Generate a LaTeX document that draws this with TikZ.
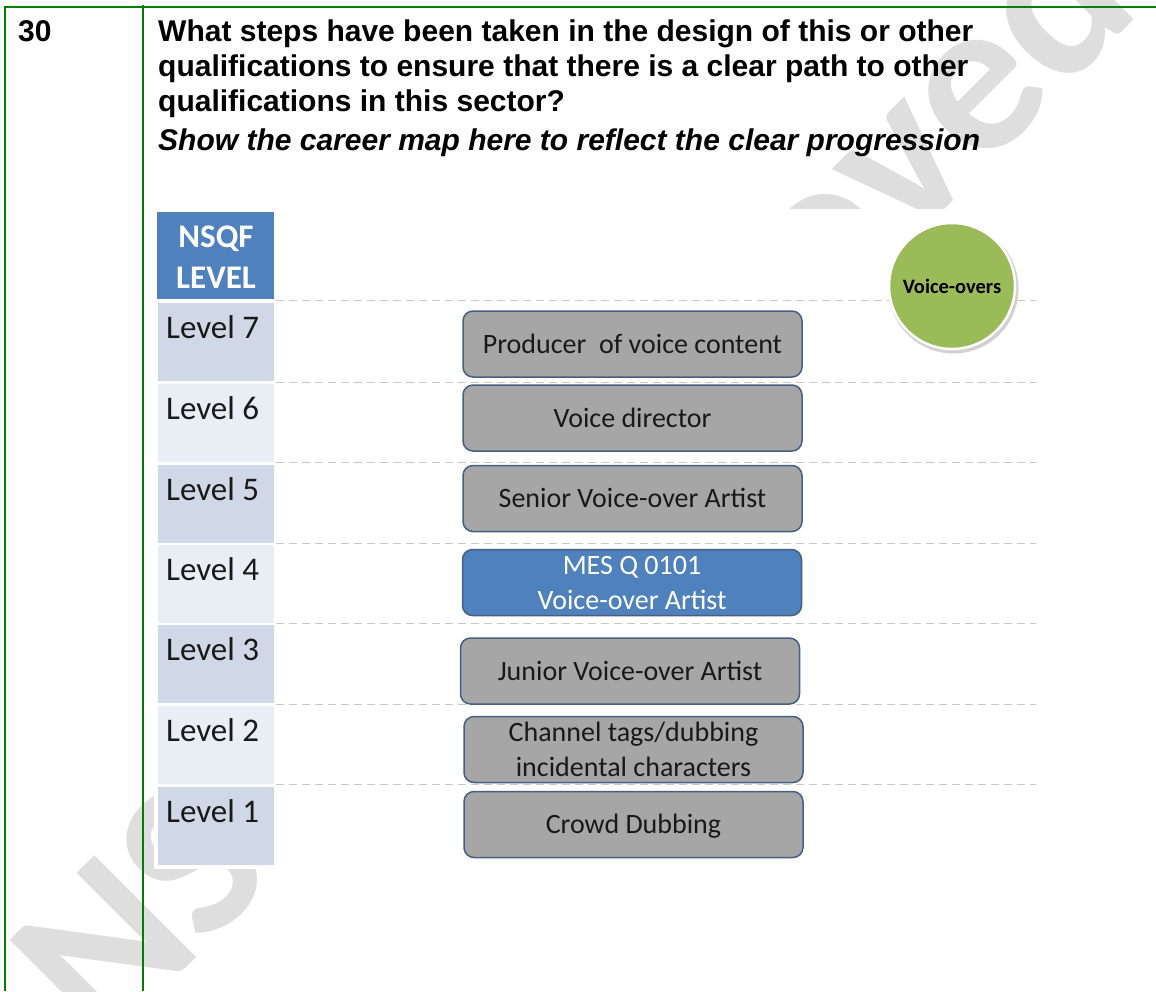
\documentclass[tikz,border=0pt]{standalone}
\usepackage{fontspec}
\setmainfont{Liberation Sans}
\newfontfamily\carl{Carlito}
\definecolor{tblgreen}{RGB}{0,128,0}
\definecolor{hdrblue}{RGB}{79,129,189}
\definecolor{lvdark}{RGB}{208,216,232}
\definecolor{lvlight}{RGB}{233,237,244}
\definecolor{boxgray}{RGB}{166,166,166}
\definecolor{boxedge}{RGB}{70,95,130}
\definecolor{circgreen}{RGB}{155,187,89}
\definecolor{dashgray}{RGB}{200,200,200}
\definecolor{wmgray}{RGB}{222,222,222}
\begin{document}
\begin{tikzpicture}[x=1pt,y=-1pt,
  tline/.style={draw=tblgreen,line width=2pt},
  qtext/.style={anchor=base west,inner sep=0pt,font=\fontsize{30}{34}\selectfont\bfseries},
  wm/.style={anchor=base west,inner sep=0pt,rotate=45,text=wmgray,font=\carl\bfseries\fontsize{222}{222}\selectfont},
  lvcell/.style={anchor=north west,inner sep=0pt,minimum width=116pt,minimum height=78pt},
  lvtext/.style={anchor=base west,inner sep=0pt,text=black!90,font=\carl\fontsize{33}{40}\selectfont},
  hdr/.style={anchor=north west,inner sep=0pt,minimum width=117pt,minimum height=87pt,fill=hdrblue},
  hdrtext/.style={anchor=base,inner sep=0pt,text=white,font=\carl\bfseries\fontsize{33}{41}\selectfont},
  dashline/.style={draw=dashgray,line width=1pt,dash pattern=on 8pt off 5pt},
  jobbox/.style={rounded corners=10pt,draw=boxedge,line width=1.5pt,fill=boxgray,minimum width=339pt,minimum height=66pt,inner sep=0pt,align=center,text=black!90,font=\carl\fontsize{28}{34.5}\selectfont,text height=18pt,text depth=0pt},
  boxtext/.style={anchor=base,inner sep=0pt,text=black!90,font=\carl\fontsize{28}{34.5}\selectfont},
  circ/.style={circle,fill=circgreen,draw=white,line width=2.5pt,minimum size=126pt,inner sep=0pt,font=\carl\bfseries\fontsize{20.5}{24}\selectfont}
]
\useasboundingbox (0,0) rectangle (1156,991);
\fill[white] (0,0) rectangle (1156,991);
% watermark
\begin{scope}
\clip (0,0) rectangle (1156,991);
\node[wm] (wm) at (102,1052) {NSQC Approved};
\end{scope}
% picture background
\fill[white] (154,209) rectangle (1040,869);
% table lines
\coordinate (tl) at (5,7);
\coordinate (tr) at (1156,7);
\coordinate (bl) at (5,991);
\coordinate (lt) at (5,6);
\coordinate (dt) at (143,5);
\coordinate (db) at (143,991);
\draw[tline] (tl) -- (tr);
\draw[tline] (lt) -- (bl);
\draw[tline] (dt) -- (db);
% question text
\node[qtext] (num) at (18,41) {30};
\node[qtext] (q1) at (158,41) {What steps have been taken in the design of this or other};
\node[qtext] (q2) at (158,76) {qualifications to ensure that there is a clear path to other};
\node[qtext] (q3) at (158,111) {qualifications in this sector?};
\node[qtext,font=\fontsize{30}{34}\selectfont\bfseries\itshape] (q4) at (158,150) {Show the career map here to reflect the clear progression};
% dashed level lines
\foreach \yy in {300,382,462,543,623,704,784}{
  \draw[dashline] (276,\yy) -- (1036,\yy);
}
% level column
\node[hdr] (hdr) at (157,212) {};
\node[hdrtext] (nsqf) at (216,247) {NSQF};
\node[hdrtext] (lvl) at (216,288) {LEVEL};
\node[lvcell,fill=lvdark]  (c7) at (158,303) {};
\node[lvcell,fill=lvlight] (c6) at (158,384) {};
\node[lvcell,fill=lvdark]  (c5) at (158,465) {};
\node[lvcell,fill=lvlight] (c4) at (158,545) {};
\node[lvcell,fill=lvdark]  (c3) at (158,625) {};
\node[lvcell,fill=lvlight] (c2) at (158,706) {};
\node[lvcell,fill=lvdark]  (c1) at (158,787) {};
\node[lvtext] (t7) at (166,338) {Level 7};
\node[lvtext] (t6) at (166,419) {Level 6};
\node[lvtext] (t5) at (166,500) {Level 5};
\node[lvtext] (t4) at (166,580) {Level 4};
\node[lvtext] (t3) at (166,660) {Level 3};
\node[lvtext] (t2) at (166,741) {Level 2};
\node[lvtext] (t1) at (166,822) {Level 1};
% job boxes
\node[jobbox] (b7) at (632.5,344) {Producer\ \ of voice content};
\node[jobbox] (b6) at (632.5,418) {Voice director};
\node[jobbox] (b5) at (632.5,498.5) {Senior Voice-over Artist};
\node[jobbox,fill=hdrblue] (b4) at (632,582.5) {};
\node[boxtext,text=white] (b4a) at (632,574.5) {MES Q 0101};
\node[boxtext,text=white] (b4b) at (632,609) {Voice-over Artist};
\node[jobbox] (b3) at (630,671) {Junior Voice-over Artist};
\node[jobbox] (b2) at (633.5,749.5) {};
\node[boxtext] (b2a) at (633.5,741.5) {Channel tags/dubbing};
\node[boxtext] (b2b) at (633.5,776) {incidental characters};
\node[jobbox] (b1) at (633.5,824.5) {Crowd Dubbing};
% circle
\fill[black!18] (953.5,288.5) circle (65);
\node[circ] (vo) at (952,286) {Voice-overs};
\end{tikzpicture}
\end{document}
